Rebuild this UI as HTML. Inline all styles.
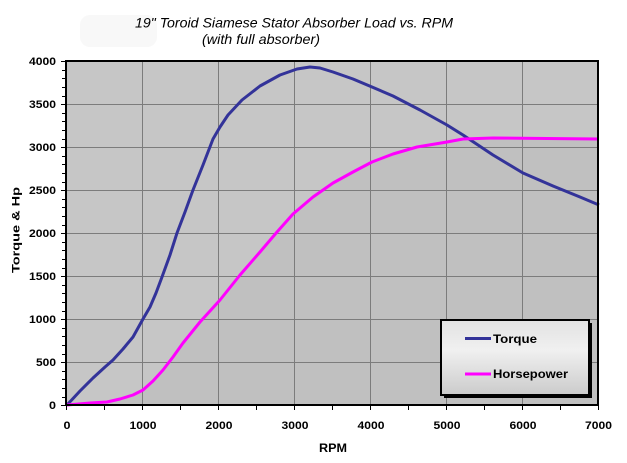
<!DOCTYPE html>
<html><head><meta charset="utf-8"><style>
html,body{margin:0;padding:0;background:#fff;}
svg{display:block;}
text{font-family:"Liberation Sans",Arial,sans-serif;fill:#000;}
</style></head><body>
<svg width="627" height="463" viewBox="0 0 627 463" xmlns="http://www.w3.org/2000/svg">
<rect width="627" height="463" fill="#fff"/>
<rect x="80" y="15" width="77" height="32" rx="10" fill="#f8f8f8"/>
<text x="135" y="27.5" font-size="14" font-style="italic" textLength="318" lengthAdjust="spacingAndGlyphs">19" Toroid Siamese Stator Absorber Load vs. RPM</text>
<text x="202" y="44" font-size="14" font-style="italic" textLength="118" lengthAdjust="spacingAndGlyphs">(with full absorber)</text>

<!-- plot background -->
<rect x="66" y="61" width="532" height="344" fill="#c6c6c6"/>
<path d="M67,405 L90,403 L107,402 L120,399 L133,395 L143,390 L153,381 L163,370 L173,357 L183,343 L200,322 L220,300 L240,275 L260,252 L277,232 L293,214 L313,197 L333,183 L353,172 L372,162 L393,154 L417,147 L447,142 L463,139 L493,138 L598,139 L598,405 Z" fill="#c0c0c0"/>

<!-- gridlines -->
<g stroke="#7c7c7c" stroke-width="1">
<line x1="142.5" y1="61" x2="142.5" y2="405"/>
<line x1="218.5" y1="61" x2="218.5" y2="405"/>
<line x1="294.5" y1="61" x2="294.5" y2="405"/>
<line x1="370.5" y1="61" x2="370.5" y2="405"/>
<line x1="446.5" y1="61" x2="446.5" y2="405"/>
<line x1="522.5" y1="61" x2="522.5" y2="405"/>
<line x1="66" y1="362.5" x2="598" y2="362.5"/>
<line x1="66" y1="319.5" x2="598" y2="319.5"/>
<line x1="66" y1="276.5" x2="598" y2="276.5"/>
<line x1="66" y1="233.5" x2="598" y2="233.5"/>
<line x1="66" y1="190.5" x2="598" y2="190.5"/>
<line x1="66" y1="147.5" x2="598" y2="147.5"/>
<line x1="66" y1="104.5" x2="598" y2="104.5"/>
</g>

<!-- series -->
<polyline fill="none" stroke="#333399" stroke-width="3" stroke-linejoin="round" points="67,405 80,391 93,378 105,367 113,360 123,349 133,337 143,319 150,307 156,293 162,277 170,255 177,233 185,212 193,190 203,165 213,139 220,127 228,115 242,100 260,86 280,75 297,69 310,67 320,68 333,72 353,79 372,87 393,96 420,110 447,125 463,135 493,155 523,173 553,186 580,197 599,205"/>
<polyline fill="none" stroke="#ff00ff" stroke-width="3" stroke-linejoin="round" points="67,405 90,403 107,402 120,399 133,395 143,390 153,381 163,370 173,357 183,343 200,322 220,300 240,275 260,252 277,232 293,214 313,197 333,183 353,172 372,162 393,154 417,147 447,142 463,139 493,138 599,139"/>

<!-- frame -->
<rect x="66" y="61" width="532" height="344" fill="none" stroke="#000" stroke-width="2"/>

<!-- y ticks -->
<g stroke="#000" stroke-width="1">
<path d="M61,61.5H66 M62,70.5H66 M62,78.5H66 M62,87.5H66 M62,96.5H66 M61,104.5H66 M62,113.5H66 M62,121.5H66 M62,130.5H66 M62,139.5H66 M61,147.5H66 M62,156.5H66 M62,164.5H66 M62,173.5H66 M62,182.5H66 M61,190.5H66 M62,199.5H66 M62,207.5H66 M62,216.5H66 M62,225.5H66 M61,233.5H66 M62,242.5H66 M62,250.5H66 M62,259.5H66 M62,268.5H66 M61,276.5H66 M62,285.5H66 M62,293.5H66 M62,302.5H66 M62,311.5H66 M61,319.5H66 M62,328.5H66 M62,336.5H66 M62,345.5H66 M62,354.5H66 M61,362.5H66 M62,371.5H66 M62,379.5H66 M62,388.5H66 M62,397.5H66 M61,405.5H66"/>
<path d="M66.5,405V410 M104.5,405V410 M142.5,405V410 M180.5,405V410 M218.5,405V410 M256.5,405V410 M294.5,405V410 M332.5,405V410 M370.5,405V410 M408.5,405V410 M446.5,405V410 M484.5,405V410 M522.5,405V410 M560.5,405V410 M598.5,405V410"/>
</g>

<!-- y labels -->
<g font-size="11" font-weight="bold">
<text x="29" y="65" textLength="27" lengthAdjust="spacingAndGlyphs">4000</text>
<text x="29" y="108" textLength="27" lengthAdjust="spacingAndGlyphs">3500</text>
<text x="29" y="151" textLength="27" lengthAdjust="spacingAndGlyphs">3000</text>
<text x="29" y="194" textLength="27" lengthAdjust="spacingAndGlyphs">2500</text>
<text x="29" y="237" textLength="27" lengthAdjust="spacingAndGlyphs">2000</text>
<text x="29" y="280" textLength="27" lengthAdjust="spacingAndGlyphs">1500</text>
<text x="29" y="323" textLength="27" lengthAdjust="spacingAndGlyphs">1000</text>
<text x="36" y="366" textLength="20" lengthAdjust="spacingAndGlyphs">500</text>
<text x="49" y="409" textLength="7" lengthAdjust="spacingAndGlyphs">0</text>
</g>
<!-- x labels -->
<g font-size="11" font-weight="bold">
<text x="63.5" y="429" textLength="7" lengthAdjust="spacingAndGlyphs">0</text>
<text x="129.5" y="429" textLength="27" lengthAdjust="spacingAndGlyphs">1000</text>
<text x="205.5" y="429" textLength="27" lengthAdjust="spacingAndGlyphs">2000</text>
<text x="281.5" y="429" textLength="27" lengthAdjust="spacingAndGlyphs">3000</text>
<text x="357.5" y="429" textLength="27" lengthAdjust="spacingAndGlyphs">4000</text>
<text x="433.5" y="429" textLength="27" lengthAdjust="spacingAndGlyphs">5000</text>
<text x="509.5" y="429" textLength="27" lengthAdjust="spacingAndGlyphs">6000</text>
<text x="585" y="429" textLength="27" lengthAdjust="spacingAndGlyphs">7000</text>
</g>
<text x="319" y="452" font-size="12" font-weight="bold" textLength="28" lengthAdjust="spacingAndGlyphs">RPM</text>
<text transform="translate(19.5,273) rotate(-90)" font-size="11" font-weight="bold" textLength="86" lengthAdjust="spacingAndGlyphs">Torque &amp; Hp</text>

<!-- legend -->
<defs>
<linearGradient id="lg" x1="0" y1="0" x2="0" y2="1">
<stop offset="0" stop-color="#e2e2e2"/>
<stop offset="0.4" stop-color="#f0f0f0"/>
<stop offset="1" stop-color="#cbcbcb"/>
</linearGradient>
</defs>
<rect x="444" y="323" width="148" height="75" fill="#000"/>
<rect x="441" y="320" width="148" height="75" fill="url(#lg)" stroke="#000" stroke-width="2"/>
<line x1="465" y1="338.5" x2="491" y2="338.5" stroke="#333399" stroke-width="3"/>
<line x1="465" y1="374" x2="491" y2="374" stroke="#ff00ff" stroke-width="3"/>
<text x="493" y="343" font-size="12" font-weight="bold" textLength="44" lengthAdjust="spacingAndGlyphs">Torque</text>
<text x="493" y="378" font-size="12" font-weight="bold" textLength="75" lengthAdjust="spacingAndGlyphs">Horsepower</text>
</svg>
</body></html>
